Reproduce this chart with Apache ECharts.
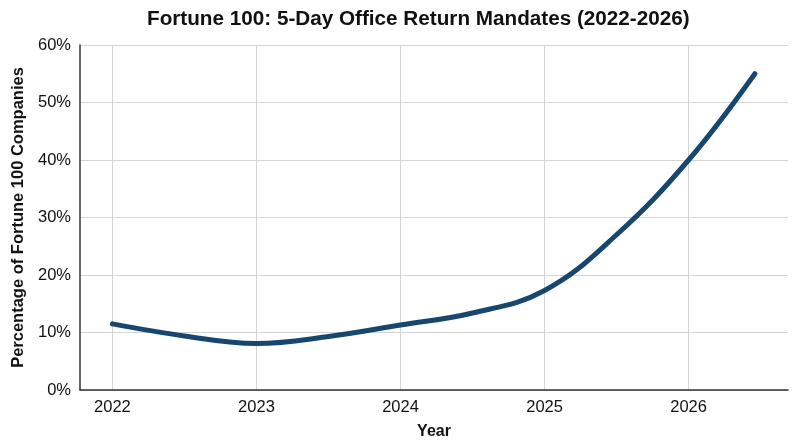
<!DOCTYPE html>
<html>
<head>
<meta charset="utf-8">
<script src="https://cdn.jsdelivr.net/npm/echarts@6/dist/echarts.min.js"></script>
<style>
  html, body { margin: 0; padding: 0; background: #fff; }
  #chart { width: 800px; height: 447px; }
</style>
</head>
<body>
<div id="chart"></div>
<script>
var years = [2022, 2022.5, 2023, 2023.5, 2024, 2024.5, 2025, 2025.5, 2026, 2026.46];
var pctValues = [11.5, 9.4, 8.1, 9.3, 11.3, 13.4, 17.3, 27, 40, 55];
var yearTicks = [2022, 2023, 2024, 2025, 2026];

var myChart = echarts.init(document.getElementById('chart'));

var points = [];
for (var i = 0; i < years.length; i++) {
	points.push([years[i], pctValues[i]]);
}

var fontFam = '"Liberation Sans", Arial, sans-serif';

var option = {
	animation: false,
	title: {
		text: 'Fortune 100: 5-Day Office Return Mandates (2022-2026)',
		left: 142,
		top: 4,
		textStyle: {
			fontFamily: fontFam,
			fontSize: 20.7,
			fontWeight: 'bold',
			color: '#111'
		}
	},
	grid: {
		left: 80,
		right: 12,
		top: 45,
		bottom: 57
	},
	xAxis: {
		type: 'value',
		min: 2021.775,
		max: 2026.69,
		name: 'Year',
		nameLocation: 'middle',
		nameGap: 34,
		nameTextStyle: {
			fontFamily: fontFam,
			fontSize: 16,
			fontWeight: 'bold',
			color: '#111'
		},
		axisLine: { show: true, onZero: false, lineStyle: { color: '#333', width: 1.5 } },
		axisTick: { show: false, customValues: yearTicks },
		axisLabel: {
			customValues: yearTicks,
			margin: 9,
			fontFamily: fontFam,
			fontSize: 16.5,
			color: '#111',
			formatter: function (v) { return String(v); }
		},
		splitLine: { show: true, lineStyle: { color: '#d4d4d4', width: 1 } }
	},
	yAxis: {
		type: 'value',
		min: 0,
		max: 60,
		interval: 10,
		name: 'Percentage of Fortune 100 Companies',
		nameLocation: 'middle',
		nameGap: 52,
		nameTextStyle: {
			fontFamily: fontFam,
			fontSize: 16.5,
			fontWeight: 'bold',
			color: '#111'
		},
		axisLine: { show: true, lineStyle: { color: '#333', width: 1.5 } },
		axisTick: { show: false },
		axisLabel: {
			margin: 9,
			fontFamily: fontFam,
			fontSize: 16.5,
			color: '#111',
			formatter: '{value}%'
		},
		splitLine: { show: true, lineStyle: { color: '#d4d4d4', width: 1 } }
	},
	series: [{
		name: '',
		type: 'line',
		data: points,
		smooth: 0.4,
		showSymbol: false,
		lineStyle: { color: '#17466f', width: 5, cap: 'round', join: 'round' }
	}]
};
myChart.setOption(option);
</script>
</body>
</html>
